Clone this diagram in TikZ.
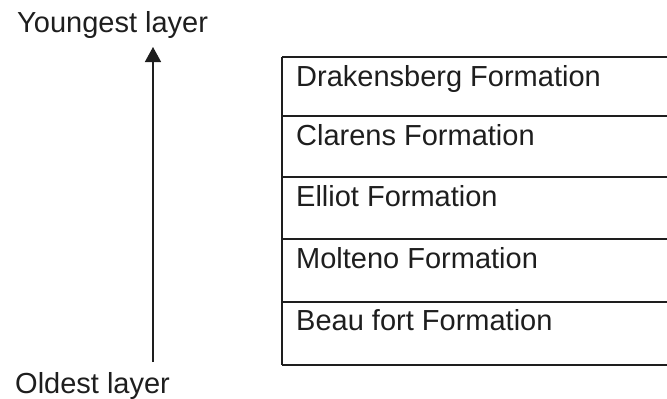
\documentclass[tikz,border=0pt]{standalone}
\usepackage{fontspec}
\setmainfont{Liberation Sans}
\usetikzlibrary{arrows.meta}
\definecolor{ink}{RGB}{30,30,30}
\tikzset{
  lbl/.style={anchor=base west, inner sep=0pt, text=ink, font=\fontsize{29}{34}\selectfont},
  rule/.style={draw=ink, line width=1.8pt},
  agearrow/.style={draw=ink, line width=1.6pt, -{Triangle[width=16pt,length=15pt]}}
}
\begin{document}
\begin{tikzpicture}[x=1pt,y=-1pt]
\useasboundingbox (0,0) rectangle (667,399);
% labels of the time arrow
\node[lbl] (young) at (17,32) {Youngest layer};
\node[lbl] (old) at (15,393) {Oldest layer};
\coordinate (abot) at (153,362);
\coordinate (atop) at (153,47);
\draw[agearrow] (abot) -- (atop);
% table of formations
\coordinate (tl) at (282,57);
\coordinate (bl) at (282,365);
\foreach \y/\n in {57/r0,116/r1,177/r2,239/r3,302/r4,365/r5}{
  \coordinate (\n l) at (282,\y);
  \coordinate (\n r) at (667,\y);
}
\draw[rule] (r0l) -- (r0r);
\draw[rule] (r1l) -- (r1r);
\draw[rule] (r2l) -- (r2r);
\draw[rule] (r3l) -- (r3r);
\draw[rule] (r4l) -- (r4r);
\draw[rule] (r5l) -- (r5r);
\draw[rule] (r0l) -- (r5l);
\node[lbl] (drak) at (296,86) {Drakensberg Formation};
\node[lbl] (clar) at (296,145) {Clarens Formation};
\node[lbl] (elli) at (296,206) {Elliot Formation};
\node[lbl] (molt) at (296,268) {Molteno Formation};
\node[lbl] (beau) at (296,330) {Beau fort Formation};
\end{tikzpicture}
\end{document}
